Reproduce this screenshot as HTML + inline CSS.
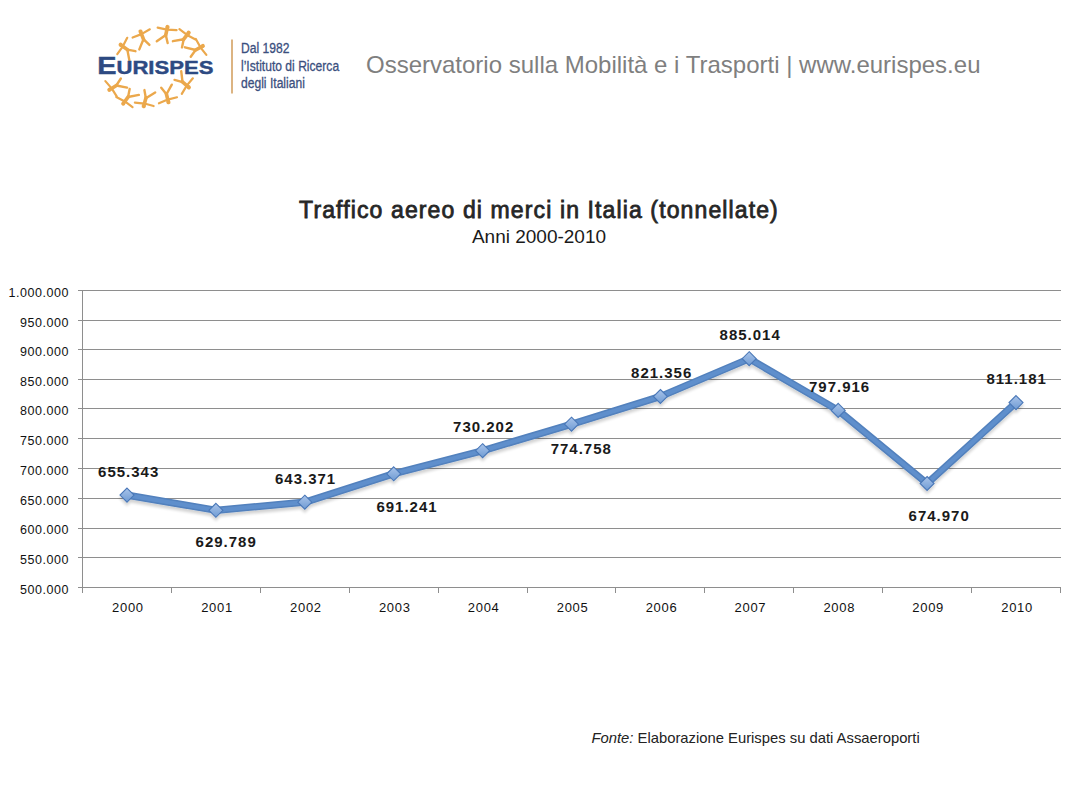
<!DOCTYPE html>
<html><head><meta charset="utf-8">
<style>
html,body{margin:0;padding:0;background:#fff;}
body{width:1080px;height:810px;position:relative;overflow:hidden;font-family:"Liberation Sans",sans-serif;}
.abs{position:absolute;white-space:nowrap;}
svg{position:absolute;left:0;top:0;}
</style></head>
<body>
<svg width="1080" height="810" viewBox="0 0 1080 810">
<defs>
  <filter id="sh" x="-20%" y="-20%" width="140%" height="160%">
    <feGaussianBlur in="SourceAlpha" stdDeviation="1.6"/>
    <feOffset dx="0" dy="2.5" result="b"/>
    <feComponentTransfer><feFuncA type="linear" slope="0.18"/></feComponentTransfer>
    <feMerge><feMergeNode/><feMergeNode in="SourceGraphic"/></feMerge>
  </filter>
  <linearGradient id="dg" x1="0" y1="0" x2="0" y2="1">
    <stop offset="0" stop-color="#a9c4ea"/>
    <stop offset="1" stop-color="#6f9bd3"/>
  </linearGradient>
</defs>

<!-- ===== LOGO ===== -->

<g>
<g transform="translate(126.5 49) rotate(-54)" fill="none" stroke="#eba84c" stroke-linecap="round" stroke-linejoin="round">
  <path d="M-9.5 -4.5 L0 -4.5 L9.5 -6" stroke-width="2.2"/>
  <path d="M0 -6.5 L0 1.5" stroke-width="3.6"/>
  <path d="M0 1 L-7.5 9 M0 1 L3.5 8.5" stroke-width="2.4"/>
  <circle cx="0" cy="-7.2" r="2.1" fill="#eba84c" stroke="none"/>
</g>
<g transform="translate(143.1 38.3) rotate(-21)" fill="none" stroke="#eba84c" stroke-linecap="round" stroke-linejoin="round">
  <path d="M-9.5 -4.5 L0 -4.5 L9.5 -6" stroke-width="2.2"/>
  <path d="M0 -6.5 L0 1.5" stroke-width="3.6"/>
  <path d="M0 1 L-7.5 9 M0 1 L3.5 8.5" stroke-width="2.4"/>
  <circle cx="0" cy="-7.2" r="2.1" fill="#eba84c" stroke="none"/>
</g>
<g transform="translate(166.0 34) rotate(12)" fill="none" stroke="#eba84c" stroke-linecap="round" stroke-linejoin="round">
  <path d="M-9.5 -4.5 L0 -4.5 L9.5 -6" stroke-width="2.2"/>
  <path d="M0 -6.5 L0 1.5" stroke-width="3.6"/>
  <path d="M0 1 L-7.5 9 M0 1 L3.5 8.5" stroke-width="2.4"/>
  <circle cx="0" cy="-7.2" r="2.1" fill="#eba84c" stroke="none"/>
</g>
<g transform="translate(184.3 38.5) rotate(37)" fill="none" stroke="#eba84c" stroke-linecap="round" stroke-linejoin="round">
  <path d="M-9.5 -4.5 L0 -4.5 L9.5 -6" stroke-width="2.2"/>
  <path d="M0 -6.5 L0 1.5" stroke-width="3.6"/>
  <path d="M0 1 L-7.5 9 M0 1 L3.5 8.5" stroke-width="2.4"/>
  <circle cx="0" cy="-7.2" r="2.1" fill="#eba84c" stroke="none"/>
</g>
<g transform="translate(196.5 49.5) rotate(61)" fill="none" stroke="#eba84c" stroke-linecap="round" stroke-linejoin="round">
  <path d="M-9.5 -4.5 L0 -4.5 L9.5 -6" stroke-width="2.2"/>
  <path d="M0 -6.5 L0 1.5" stroke-width="3.6"/>
  <path d="M0 1 L-7.5 9 M0 1 L3.5 8.5" stroke-width="2.4"/>
  <circle cx="0" cy="-7.2" r="2.1" fill="#eba84c" stroke="none"/>
</g>
<g transform="translate(115.5 86) rotate(-122)" fill="none" stroke="#eba84c" stroke-linecap="round" stroke-linejoin="round">
  <path d="M-9.5 -4.5 L0 -4.5 L9.5 -6" stroke-width="2.2"/>
  <path d="M0 -6.5 L0 1.5" stroke-width="3.6"/>
  <path d="M0 1 L-7.5 9 M0 1 L3.5 8.5" stroke-width="2.4"/>
  <circle cx="0" cy="-7.2" r="2.1" fill="#eba84c" stroke="none"/>
</g>
<g transform="translate(127.5 97.8) rotate(-144)" fill="none" stroke="#eba84c" stroke-linecap="round" stroke-linejoin="round">
  <path d="M-9.5 -4.5 L0 -4.5 L9.5 -6" stroke-width="2.2"/>
  <path d="M0 -6.5 L0 1.5" stroke-width="3.6"/>
  <path d="M0 1 L-7.5 9 M0 1 L3.5 8.5" stroke-width="2.4"/>
  <circle cx="0" cy="-7.2" r="2.1" fill="#eba84c" stroke="none"/>
</g>
<g transform="translate(145.6 99.2) rotate(-165)" fill="none" stroke="#eba84c" stroke-linecap="round" stroke-linejoin="round">
  <path d="M-9.5 -4.5 L0 -4.5 L9.5 -6" stroke-width="2.2"/>
  <path d="M0 -6.5 L0 1.5" stroke-width="3.6"/>
  <path d="M0 1 L-7.5 9 M0 1 L3.5 8.5" stroke-width="2.4"/>
  <circle cx="0" cy="-7.2" r="2.1" fill="#eba84c" stroke="none"/>
</g>
<g transform="translate(166.7 95.2) rotate(166)" fill="none" stroke="#eba84c" stroke-linecap="round" stroke-linejoin="round">
  <path d="M-9.5 -4.5 L0 -4.5 L9.5 -6" stroke-width="2.2"/>
  <path d="M0 -6.5 L0 1.5" stroke-width="3.6"/>
  <path d="M0 1 L-7.5 9 M0 1 L3.5 8.5" stroke-width="2.4"/>
  <circle cx="0" cy="-7.2" r="2.1" fill="#eba84c" stroke="none"/>
</g>
<g transform="translate(183.3 82.7) rotate(130)" fill="none" stroke="#eba84c" stroke-linecap="round" stroke-linejoin="round">
  <path d="M-9.5 -4.5 L0 -4.5 L9.5 -6" stroke-width="2.2"/>
  <path d="M0 -6.5 L0 1.5" stroke-width="3.6"/>
  <path d="M0 1 L-7.5 9 M0 1 L3.5 8.5" stroke-width="2.4"/>
  <circle cx="0" cy="-7.2" r="2.1" fill="#eba84c" stroke="none"/>
</g>
</g>
<rect x="231" y="39.5" width="2" height="54" fill="#dcb482"/>

<!-- ===== CHART GRID ===== -->
<g stroke="#8e8e8e" stroke-width="1" shape-rendering="crispEdges">
  <line x1="78" y1="290.5" x2="1061" y2="290.5"/>
  <line x1="78" y1="320.5" x2="1061" y2="320.5"/>
  <line x1="78" y1="349.5" x2="1061" y2="349.5"/>
  <line x1="78" y1="379.5" x2="1061" y2="379.5"/>
  <line x1="78" y1="408.5" x2="1061" y2="408.5"/>
  <line x1="78" y1="438.5" x2="1061" y2="438.5"/>
  <line x1="78" y1="468.5" x2="1061" y2="468.5"/>
  <line x1="78" y1="498.5" x2="1061" y2="498.5"/>
  <line x1="78" y1="528.5" x2="1061" y2="528.5"/>
  <line x1="78" y1="557.5" x2="1061" y2="557.5"/>
  <line x1="78" y1="587.5" x2="1061" y2="587.5"/>
  <line x1="82.5" y1="290" x2="82.5" y2="593"/>
  <line x1="171.5" y1="587" x2="171.5" y2="593"/>
  <line x1="260.5" y1="587" x2="260.5" y2="593"/>
  <line x1="349.5" y1="587" x2="349.5" y2="593"/>
  <line x1="438.5" y1="587" x2="438.5" y2="593"/>
  <line x1="527.5" y1="587" x2="527.5" y2="593"/>
  <line x1="615.5" y1="587" x2="615.5" y2="593"/>
  <line x1="704.5" y1="587" x2="704.5" y2="593"/>
  <line x1="793.5" y1="587" x2="793.5" y2="593"/>
  <line x1="882.5" y1="587" x2="882.5" y2="593"/>
  <line x1="971.5" y1="587" x2="971.5" y2="593"/>
  <line x1="1060.5" y1="587" x2="1060.5" y2="593"/>
</g>

<!-- ===== SERIES ===== -->
<g filter="url(#sh)">
<polyline fill="none" stroke="#5281bd" stroke-width="7.2" stroke-linejoin="round" stroke-linecap="round" points="127.0,495.1 215.9,510.3 304.8,502.2 393.7,473.8 482.6,450.7 571.5,424.2 660.4,396.5 749.2,358.7 838.2,410.4 927.1,483.5 1016.0,402.6"/>
<polyline fill="none" stroke="#5f8fcc" stroke-width="4.2" stroke-linejoin="round" stroke-linecap="round" points="127.0,495.1 215.9,510.3 304.8,502.2 393.7,473.8 482.6,450.7 571.5,424.2 660.4,396.5 749.2,358.7 838.2,410.4 927.1,483.5 1016.0,402.6"/>
<g fill="url(#dg)" stroke="#4a78b8" stroke-width="1.1">
  <path d="M127.0 488.1 L134.0 495.1 L127.0 502.1 L120.0 495.1Z"/>
  <path d="M215.9 503.3 L222.9 510.3 L215.9 517.3 L208.9 510.3Z"/>
  <path d="M304.8 495.2 L311.8 502.2 L304.8 509.2 L297.8 502.2Z"/>
  <path d="M393.7 466.8 L400.7 473.8 L393.7 480.8 L386.7 473.8Z"/>
  <path d="M482.6 443.7 L489.6 450.7 L482.6 457.7 L475.6 450.7Z"/>
  <path d="M571.5 417.2 L578.5 424.2 L571.5 431.2 L564.5 424.2Z"/>
  <path d="M660.4 389.5 L667.4 396.5 L660.4 403.5 L653.4 396.5Z"/>
  <path d="M749.2 351.7 L756.2 358.7 L749.2 365.7 L742.2 358.7Z"/>
  <path d="M838.2 403.4 L845.2 410.4 L838.2 417.4 L831.2 410.4Z"/>
  <path d="M927.1 476.5 L934.1 483.5 L927.1 490.5 L920.1 483.5Z"/>
  <path d="M1016.0 395.6 L1023.0 402.6 L1016.0 409.6 L1009.0 402.6Z"/>
</g>
</g>

<!-- ===== AXIS LABELS ===== -->
<g font-family="Liberation Sans" font-size="12.5" fill="#111" text-anchor="end" letter-spacing="0.55">
  <text x="69.1" y="296.7">1.000.000</text>
  <text x="69.1" y="326.7">950.000</text>
  <text x="69.1" y="355.7">900.000</text>
  <text x="69.1" y="385.7">850.000</text>
  <text x="69.1" y="414.7">800.000</text>
  <text x="69.1" y="444.7">750.000</text>
  <text x="69.1" y="474.7">700.000</text>
  <text x="69.1" y="504.7">650.000</text>
  <text x="69.1" y="533.7">600.000</text>
  <text x="69.1" y="563.7">550.000</text>
  <text x="69.1" y="593.7">500.000</text>
</g>
<g font-family="Liberation Sans" font-size="13" fill="#111" text-anchor="middle" letter-spacing="0.7">
  <text x="127.9" y="612">2000</text>
  <text x="217.0" y="612">2001</text>
  <text x="305.9" y="612">2002</text>
  <text x="394.8" y="612">2003</text>
  <text x="483.7" y="612">2004</text>
  <text x="572.6" y="612">2005</text>
  <text x="661.5" y="612">2006</text>
  <text x="750.4" y="612">2007</text>
  <text x="839.3" y="612">2008</text>
  <text x="928.2" y="612">2009</text>
  <text x="1017.1" y="612">2010</text>
</g>
<g font-family="Liberation Sans" font-size="15" font-weight="bold" fill="#1a1a1a" text-anchor="middle" letter-spacing="1">
  <text x="128.7" y="477">655.343</text>
  <text x="226.2" y="547.4">629.789</text>
  <text x="305.6" y="483.6">643.371</text>
  <text x="407.0" y="512">691.241</text>
  <text x="483.7" y="432">730.202</text>
  <text x="581.3" y="453.5">774.758</text>
  <text x="661.7" y="377.5">821.356</text>
  <text x="750.2" y="339.6">885.014</text>
  <text x="839.6" y="391.6">797.916</text>
  <text x="939.2" y="520.5">674.970</text>
  <text x="1016.7" y="383.7">811.181</text>
</g>

<!-- ===== TITLES ===== -->
<text x="539" y="217.7" font-family="Liberation Sans" font-size="23" fill="#262626" stroke="#262626" stroke-width="0.8" text-anchor="middle" letter-spacing="1.12">Traffico aereo di merci in Italia (tonnellate)</text>
<text x="539" y="243" font-family="Liberation Sans" font-size="19" fill="#1a1a1a" text-anchor="middle">Anni 2000-2010</text>

<!-- header -->
<text x="366" y="72.7" font-family="Liberation Sans" font-size="24" fill="#7f7f7f">Osservatorio sulla Mobilità e i Trasporti | www.eurispes.eu</text>

<!-- footer -->
<text x="591.5" y="743" font-family="Liberation Sans" font-size="14.8" fill="#222"><tspan font-style="italic">Fonte:</tspan> Elaborazione Eurispes su dati Assaeroporti</text>

<!-- logo text -->
<g font-family="Liberation Sans" fill="#3b4f7e" font-size="14.5" stroke="#3b4f7e" stroke-width="0.3">
  <text x="241" y="52.8" transform="translate(241 0) scale(0.835 1) translate(-241 0)">Dal 1982</text>
  <text x="241" y="70.6" transform="translate(241 0) scale(0.835 1) translate(-241 0)">l’Istituto di Ricerca</text>
  <text x="241" y="88.3" transform="translate(241 0) scale(0.835 1) translate(-241 0)">degli Italiani</text>
</g>
<g font-family="Liberation Sans" font-weight="bold" fill="#2d4a82">
  <text x="97.2" y="74.3" transform="translate(97.2 0) scale(1.24 1) translate(-97.2 0)" stroke="#2d4a82" stroke-width="0.4"><tspan font-size="23.3">E</tspan><tspan font-size="17.8">URISPES</tspan></text>
</g>
</svg>
</body></html>
